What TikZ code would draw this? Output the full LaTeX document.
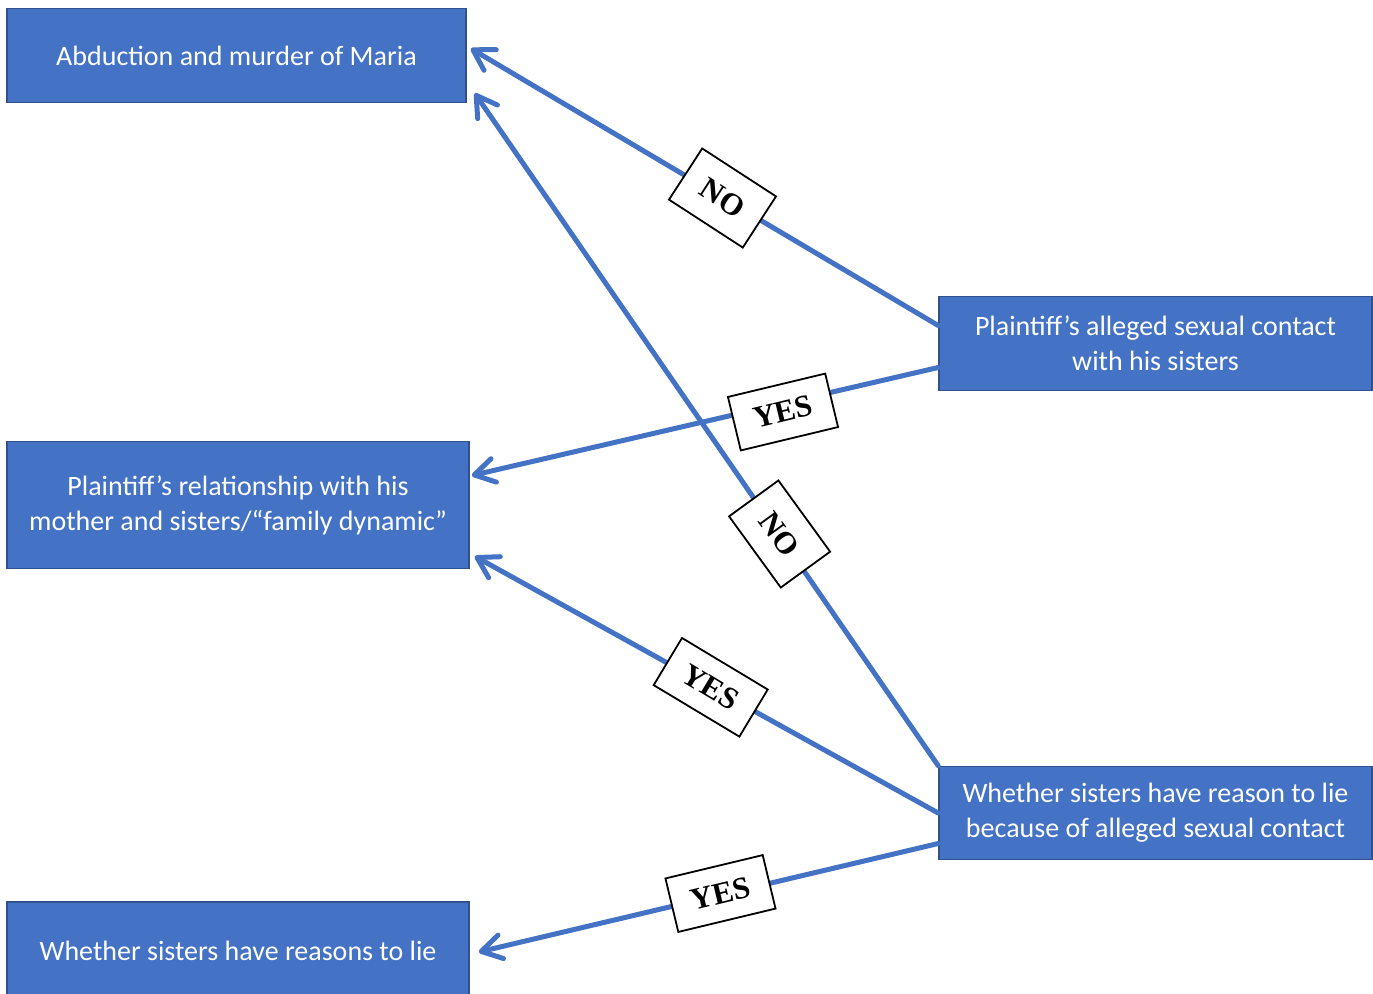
\documentclass[tikz,border=0pt]{standalone}
\usepackage{fontspec}
\setmainfont{Carlito}
\newfontfamily\labelfont{Liberation Serif}
\usetikzlibrary{arrows.meta,calc}
\definecolor{boxblue}{HTML}{4472C4}
\definecolor{boxedge}{HTML}{2F528F}
\begin{document}
\begin{tikzpicture}[x=0.5pt,y=-0.5pt,
  topic/.style={draw=boxedge, line width=0.8pt, fill=boxblue, text=white, align=center, inner sep=0pt, font=\fontsize{14}{17.5}\selectfont},
  link/.style={draw=boxblue, line width=2.5pt, line cap=round, -{Straight Barb[length=10pt,width=12pt,round]}},
  verdict/.style={draw=black, line width=0.9pt, fill=white, inner sep=0pt, font=\labelfont\bfseries\fontsize{15.5}{17}\selectfont},
  yesbox/.style={verdict, minimum width=50pt, minimum height=27.5pt},
  nobox/.style={verdict, minimum width=44pt, minimum height=30.5pt}]
\useasboundingbox (0,0) rectangle (1373,993);

\node[topic, minimum width=229.5pt, minimum height=47pt] (A) at (236.5,55.5) {Abduction and murder of Maria};
\node[topic, minimum width=216.5pt, minimum height=47pt] (P) at (1155.5,343.5) {Plaintiff’s alleged sexual contact\\with his sisters};
\node[topic, minimum width=231pt, minimum height=63.5pt] (R) at (238,505) {Plaintiff’s relationship with his\\mother and sisters/“family dynamic”};
\node[topic, minimum width=216.5pt, minimum height=46.5pt] (W) at (1155.5,813) {Whether sisters have reason to lie\\because of alleged sexual contact};
\node[topic, minimum width=231pt, minimum height=49pt] (L) at (238,951) {Whether sisters have reasons to lie};

\draw[link] ($(P.west)+(0,-18)$) -- ($(A.east)+(4,-7)$);
\draw[link] ($(P.west)+(0,24)$) -- ($(R.east)+(2,-29.5)$);
\draw[link] (W.north west) -- ($(A.south east)+(8,-10)$);
\draw[link] (W.west) -- ($(R.south east)+(5,-13)$);
\draw[link] ($(W.west)+(0,30.5)$) -- ($(L.east)+(9,1)$);

\node[nobox, rotate=-33] (n1) at (722.5,198) {NO};
\node[yesbox, rotate=13.5] (y1) at (783,412) {YES};
\node[nobox, rotate=-54] (n2) at (779.6,534) {NO};
\node[yesbox, rotate=-31] (y2) at (710.7,687.3) {YES};
\node[yesbox, rotate=13.5] (y3) at (720.5,893.5) {YES};
\end{tikzpicture}
\end{document}
